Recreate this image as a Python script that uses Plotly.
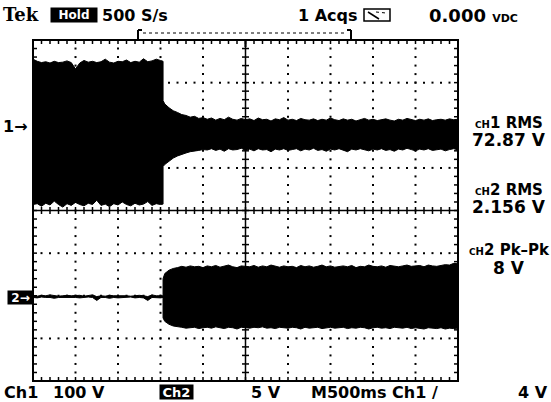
import plotly.graph_objects as go

# ---------------- data ----------------
# envelope sample times in seconds (trigger at screen centre, 500 ms/div)
t_s = [-2.50, -2.45, -2.40, -2.35, -2.30, -2.25, -2.20, -2.15, -2.10, -2.05,
       -2.00, -1.95, -1.90, -1.85, -1.80, -1.75, -1.70, -1.65, -1.60, -1.55,
       -1.50, -1.45, -1.40, -1.35, -1.30, -1.25, -1.20, -1.15, -1.10, -1.05,
       -1.00, -0.97, -0.97,
       -0.95, -0.90, -0.85, -0.80, -0.75, -0.70, -0.65, -0.60, -0.55, -0.50,
       -0.45, -0.40, -0.35, -0.30, -0.25, -0.20, -0.15, -0.10, -0.05, 0.00,
       0.05, 0.10, 0.15, 0.20, 0.25, 0.30, 0.35, 0.40, 0.45, 0.50,
       0.55, 0.60, 0.65, 0.70, 0.75, 0.80, 0.85, 0.90, 0.95, 1.00,
       1.05, 1.10, 1.15, 1.20, 1.25, 1.30, 1.35, 1.40, 1.45, 1.50,
       1.55, 1.60, 1.65, 1.70, 1.75, 1.80, 1.85, 1.90, 1.95, 2.00,
       2.05, 2.10, 2.15, 2.20, 2.25, 2.30, 2.35, 2.40, 2.45, 2.50]

# Channel 1 envelope (volts, relative to channel-1 ground marker)
ch1_upper_v = [155, 150, 147, 149, 146, 150, 147, 148, 151, 147,
               132, 146, 152, 148, 150, 147, 149, 155, 148, 146,
               150, 149, 153, 147, 150, 148, 156, 149, 151, 155,
               152, 150, 58,
               50, 41, 34, 30, 25, 23, 19, 21, 16, 18,
               14, 17, 12, 16, 13, 19, 14, 12, 16, 13,
               15, 11, 17, 13, 14, 10, 15, 13, 18, 12,
               14, 11, 16, 13, 12, 15, 11, 14, 12, 17,
               13, 11, 15, 12, 14, 10, 13, 16, 12, 14,
               11, 13, 15, 12, 10, 14, 12, 16, 13, 11,
               14, 12, 15, 11, 13, 14, 12, 15, 13, 14]
ch1_lower_v = [-186, -184, -190, -183, -187, -178, -186, -192, -184, -188,
               -181, -186, -189, -183, -186, -176, -188, -185, -191, -184,
               -187, -180, -186, -189, -183, -187, -185, -179, -188, -184,
               -186, -185, -97,
               -92, -84, -77, -72, -68, -65, -62, -60, -59, -57,
               -58, -55, -59, -56, -61, -55, -58, -57, -54, -59,
               -56, -60, -55, -58, -57, -62, -56, -58, -55, -59,
               -57, -55, -60, -56, -58, -54, -59, -57, -61, -56,
               -58, -55, -59, -62, -56, -58, -55, -57, -60, -56,
               -58, -55, -59, -57, -61, -56, -58, -54, -57, -60,
               -56, -58, -55, -59, -57, -56, -60, -57, -55, -58]

# Channel 2 envelope (volts, relative to channel-2 ground marker)
ch2_upper_v = [0.0, -0.05, 0.05, 0.0, 0.1, 0.0, -0.05, 0.0, 0.05, 0.0,
               0.0, 0.05, -0.05, 0.0, 0.1, -0.1, 0.0, -0.05, 0.05, 0.0,
               0.0, 0.05, 0.0, -0.05, 0.0, 0.05, 0.0, -0.1, 0.1, 0.0,
               0.0, 0.0, 2.0,
               2.6, 3.0, 3.2, 3.3, 3.45, 3.35, 3.5, 3.4, 3.45, 3.3,
               3.5, 3.4, 3.55, 3.35, 3.45, 3.6, 3.4, 3.3, 3.5, 3.45,
               3.4, 3.55, 3.35, 3.5, 3.4, 3.6, 3.45, 3.35, 3.5, 3.4,
               3.45, 3.3, 3.55, 3.4, 3.5, 3.35, 3.45, 3.6, 3.4, 3.5,
               3.35, 3.45, 3.5, 3.4, 3.55, 3.3, 3.45, 3.4, 3.6, 3.45,
               3.4, 3.5, 3.35, 3.55, 3.45, 3.4, 3.5, 3.6, 3.45, 3.5,
               3.55, 3.4, 3.6, 3.5, 3.45, 3.55, 3.65, 3.6, 3.8, 3.75]
ch2_lower_v = [-0.2, -0.25, -0.15, -0.2, -0.2, -0.3, -0.2, -0.25, -0.2, -0.2,
               -0.2, -0.25, -0.2, -0.15, -0.2, -0.55, -0.2, -0.2, -0.3, -0.2,
               -0.25, -0.2, -0.2, -0.15, -0.25, -0.2, -0.25, -0.55, -0.2, -0.2,
               -0.25, -0.2, -2.6,
               -3.0, -3.35, -3.55, -3.65, -3.7, -3.8, -3.75, -3.7, -3.85, -3.75,
               -3.7, -3.8, -3.65, -3.75, -3.85, -3.7, -3.75, -3.9, -3.7, -3.75,
               -3.8, -3.7, -3.75, -3.65, -3.8, -3.75, -3.85, -3.7, -3.75, -3.8,
               -3.7, -3.75, -3.9, -3.7, -3.8, -3.75, -3.7, -3.85, -3.75, -3.7,
               -3.8, -3.75, -3.7, -3.85, -3.75, -3.8, -3.7, -3.75, -3.9, -3.75,
               -3.7, -3.8, -3.75, -3.85, -3.7, -3.75, -3.8, -3.7, -3.85, -3.75,
               -3.8, -3.9, -3.75, -3.8, -3.85, -3.75, -3.9, -3.8, -3.85, -3.8]

# scope settings
CH1_VOLTS_PER_DIV = 100
CH2_VOLTS_PER_DIV = 5
CH1_POSITION_DIV = 2.0
CH2_POSITION_DIV = -2.0
TIME_PER_DIV = 0.5
H_DIVS = 10
V_DIVS = 8

# readout texts
status_texts = ["Tek", "Hold", "500 S/s", "1 Acqs", "0.000", "VDC"]
measure_titles = ["1 RMS", "2 RMS", "2 Pk\u2013Pk"]
measure_values = ["72.87 V", "2.156 V", "8 V"]
bottom_texts = ["Ch1", "100 V", "Ch2", "5 V", "M500ms Ch1 /", "4 V"]

# ---------------- layout geometry ----------------
W, H = 551, 402
ML, MR, MT, MB = 33, 93, 40, 21
PW = W - ML - MR
PH = H - MT - MB
X_RANGE = [-H_DIVS / 2 * TIME_PER_DIV, H_DIVS / 2 * TIME_PER_DIV]
Y_RANGE = [-V_DIVS / 2, V_DIVS / 2]
SX = (X_RANGE[1] - X_RANGE[0]) / PW   # seconds per pixel
SY = (Y_RANGE[1] - Y_RANGE[0]) / PH   # divisions per pixel

FONT = "DejaVu Sans"


def to_div(vals, vdiv, pos):
    return [pos + v / vdiv for v in vals]


def envelope(upper, lower, vdiv, pos):
    up = to_div(upper, vdiv, pos)
    lo = to_div(lower, vdiv, pos)
    return go.Scatter(x=t_s + t_s[::-1], y=up + lo[::-1], mode="lines",
                      fill="toself", fillcolor="black",
                      line=dict(color="black", width=1),
                      hoverinfo="skip", showlegend=False)


fig = go.Figure()

# graticule dots
gx, gy = [], []
half_h = H_DIVS // 2
half_v = V_DIVS // 2
for xd in range(-half_h + 1, half_h):
    if xd == 0:
        continue
    for k in range(-half_v * 5 + 1, half_v * 5):
        gx.append(xd * TIME_PER_DIV)
        gy.append(k / 5)
for yd in range(-half_v + 1, half_v):
    if yd == 0:
        continue
    for k in range(-half_h * 5 + 1, half_h * 5):
        gx.append(k * TIME_PER_DIV / 5)
        gy.append(yd)
fig.add_trace(go.Scatter(x=gx, y=gy, mode="markers",
                         marker=dict(symbol="square", size=2, color="black",
                                     line=dict(width=0)),
                         hoverinfo="skip", showlegend=False))

# centre cross and tick marks
tx, ty = [], []


def seg(x0, y0, x1, y1):
    tx.extend([x0, x1, None])
    ty.extend([y0, y1, None])


seg(X_RANGE[0], 0, X_RANGE[1], 0)
seg(0, Y_RANGE[0], 0, Y_RANGE[1])
for k in range(-half_h * 5 + 1, half_h * 5):
    x = k * TIME_PER_DIV / 5
    seg(x, -3.5 * SY, x, 3.5 * SY)
    seg(x, Y_RANGE[1], x, Y_RANGE[1] - 4 * SY)
    seg(x, Y_RANGE[0], x, Y_RANGE[0] + 4 * SY)
for k in range(-half_v * 5 + 1, half_v * 5):
    y = k / 5
    seg(-3.5 * SX, y, 3.5 * SX, y)
    seg(X_RANGE[0], y, X_RANGE[0] + 4 * SX, y)
    seg(X_RANGE[1], y, X_RANGE[1] - 4 * SX, y)
fig.add_trace(go.Scatter(x=tx, y=ty, mode="lines",
                         line=dict(color="black", width=1.5),
                         hoverinfo="skip", showlegend=False))

# waveforms
fig.add_trace(envelope(ch1_upper_v, ch1_lower_v, CH1_VOLTS_PER_DIV, CH1_POSITION_DIV))
fig.add_trace(envelope(ch2_upper_v, ch2_lower_v, CH2_VOLTS_PER_DIV, CH2_POSITION_DIV))


# ---------------- decorations in pixel space ----------------
def pxx(x):
    return (x - ML) / PW


def pxy(y):
    return (H - MB - y) / PH


shapes = [dict(type="rect", xref="paper", yref="paper", x0=0, x1=1, y0=0, y1=1,
               line=dict(color="black", width=2))]


def pline(x0, y0, x1, y1, width=1.5, dash="solid"):
    shapes.append(dict(type="line", xref="paper", yref="paper",
                       x0=pxx(x0), y0=pxy(y0), x1=pxx(x1), y1=pxy(y1),
                       line=dict(color="black", width=width, dash=dash)))


# record-position bracket
pline(138, 30, 138, 41, 2)
pline(138, 30, 142, 30, 2)
pline(351, 30, 351, 41, 2)
pline(347, 30, 351, 30, 2)
pline(143, 33, 346, 33, 1, "dot")
# trigger position marker
pline(245.5, 40, 245.5, 47, 2)
# meter icon
shapes.append(dict(type="rect", xref="paper", yref="paper",
                   x0=pxx(364), x1=pxx(390), y0=pxy(21), y1=pxy(9),
                   line=dict(color="black", width=1.5)))
pline(368, 12, 379, 19, 1.5)
pline(376, 12, 386, 13, 1, "dot")

annotations = []


def ann(text, x, y, xanchor="left", size=16, color="black", bg=None, w=None, h=None,
        family=FONT):
    d = dict(text=text, xref="paper", yref="paper", x=pxx(x), y=pxy(y),
             xanchor=xanchor, yanchor="middle", showarrow=False,
             font=dict(family=family, size=size, color=color), borderpad=0)
    if bg:
        d["bgcolor"] = bg
    if w:
        d["width"] = w
    if h:
        d["height"] = h
    annotations.append(d)


ann("<b>%s</b>" % status_texts[0], 2, 14, size=18, family="DejaVu Serif")
ann("<b>%s</b>" % status_texts[1], 74, 15, "center", 12, "white", "black", 46, 14)
ann("<b>%s</b>" % status_texts[2], 101, 15, size=16)
ann("<b>%s</b>" % status_texts[3], 297, 15, size=16)
ann("<b>%s <span style='font-size:11px'>%s</span></b>" % (status_texts[4], status_texts[5]),
    428, 15, size=18)

ch_prefix = "<span style='font-size:9px'>C</span><span style='font-size:10px'>H</span>"
meas_y = [(123, 140), (190, 207), (250, 268)]
for title, val, (y1, y2) in zip(measure_titles, measure_values, meas_y):
    ann("<b>%s%s</b>" % (ch_prefix, title), 509, y1, "center", 15)
    ann("<b>%s</b>" % val, 509, y2, "center", 17)

# channel ground markers
ann("<b>1\u2192</b>", 2, 126, size=16)
ann("<b>2\u2192</b>", 20.5, 297.5, "center", 12, "white", "black", 25, 13)

# bottom status line
ann("<b>%s</b>" % bottom_texts[0], 3, 392, size=16)
ann("<b>%s</b>" % bottom_texts[1], 52, 392, size=16)
ann("<b>%s</b>" % bottom_texts[2], 176.5, 392, "center", 13, "white", "black", 33, 14)
ann("<b>%s</b>" % bottom_texts[3], 250, 392, size=16)
ann("<b>%s</b>" % bottom_texts[4], 310, 392, size=16)
ann("<b>%s</b>" % bottom_texts[5], 549, 392, "right", 16)

fig.update_layout(
    width=W, height=H,
    margin=dict(l=ML, r=MR, t=MT, b=MB, autoexpand=False),
    paper_bgcolor="white", plot_bgcolor="white",
    xaxis=dict(range=X_RANGE, visible=False, fixedrange=True),
    yaxis=dict(range=Y_RANGE, visible=False, fixedrange=True),
    shapes=shapes, annotations=annotations, showlegend=False,
)

fig.write_html("out.html", config={"displayModeBar": False})
